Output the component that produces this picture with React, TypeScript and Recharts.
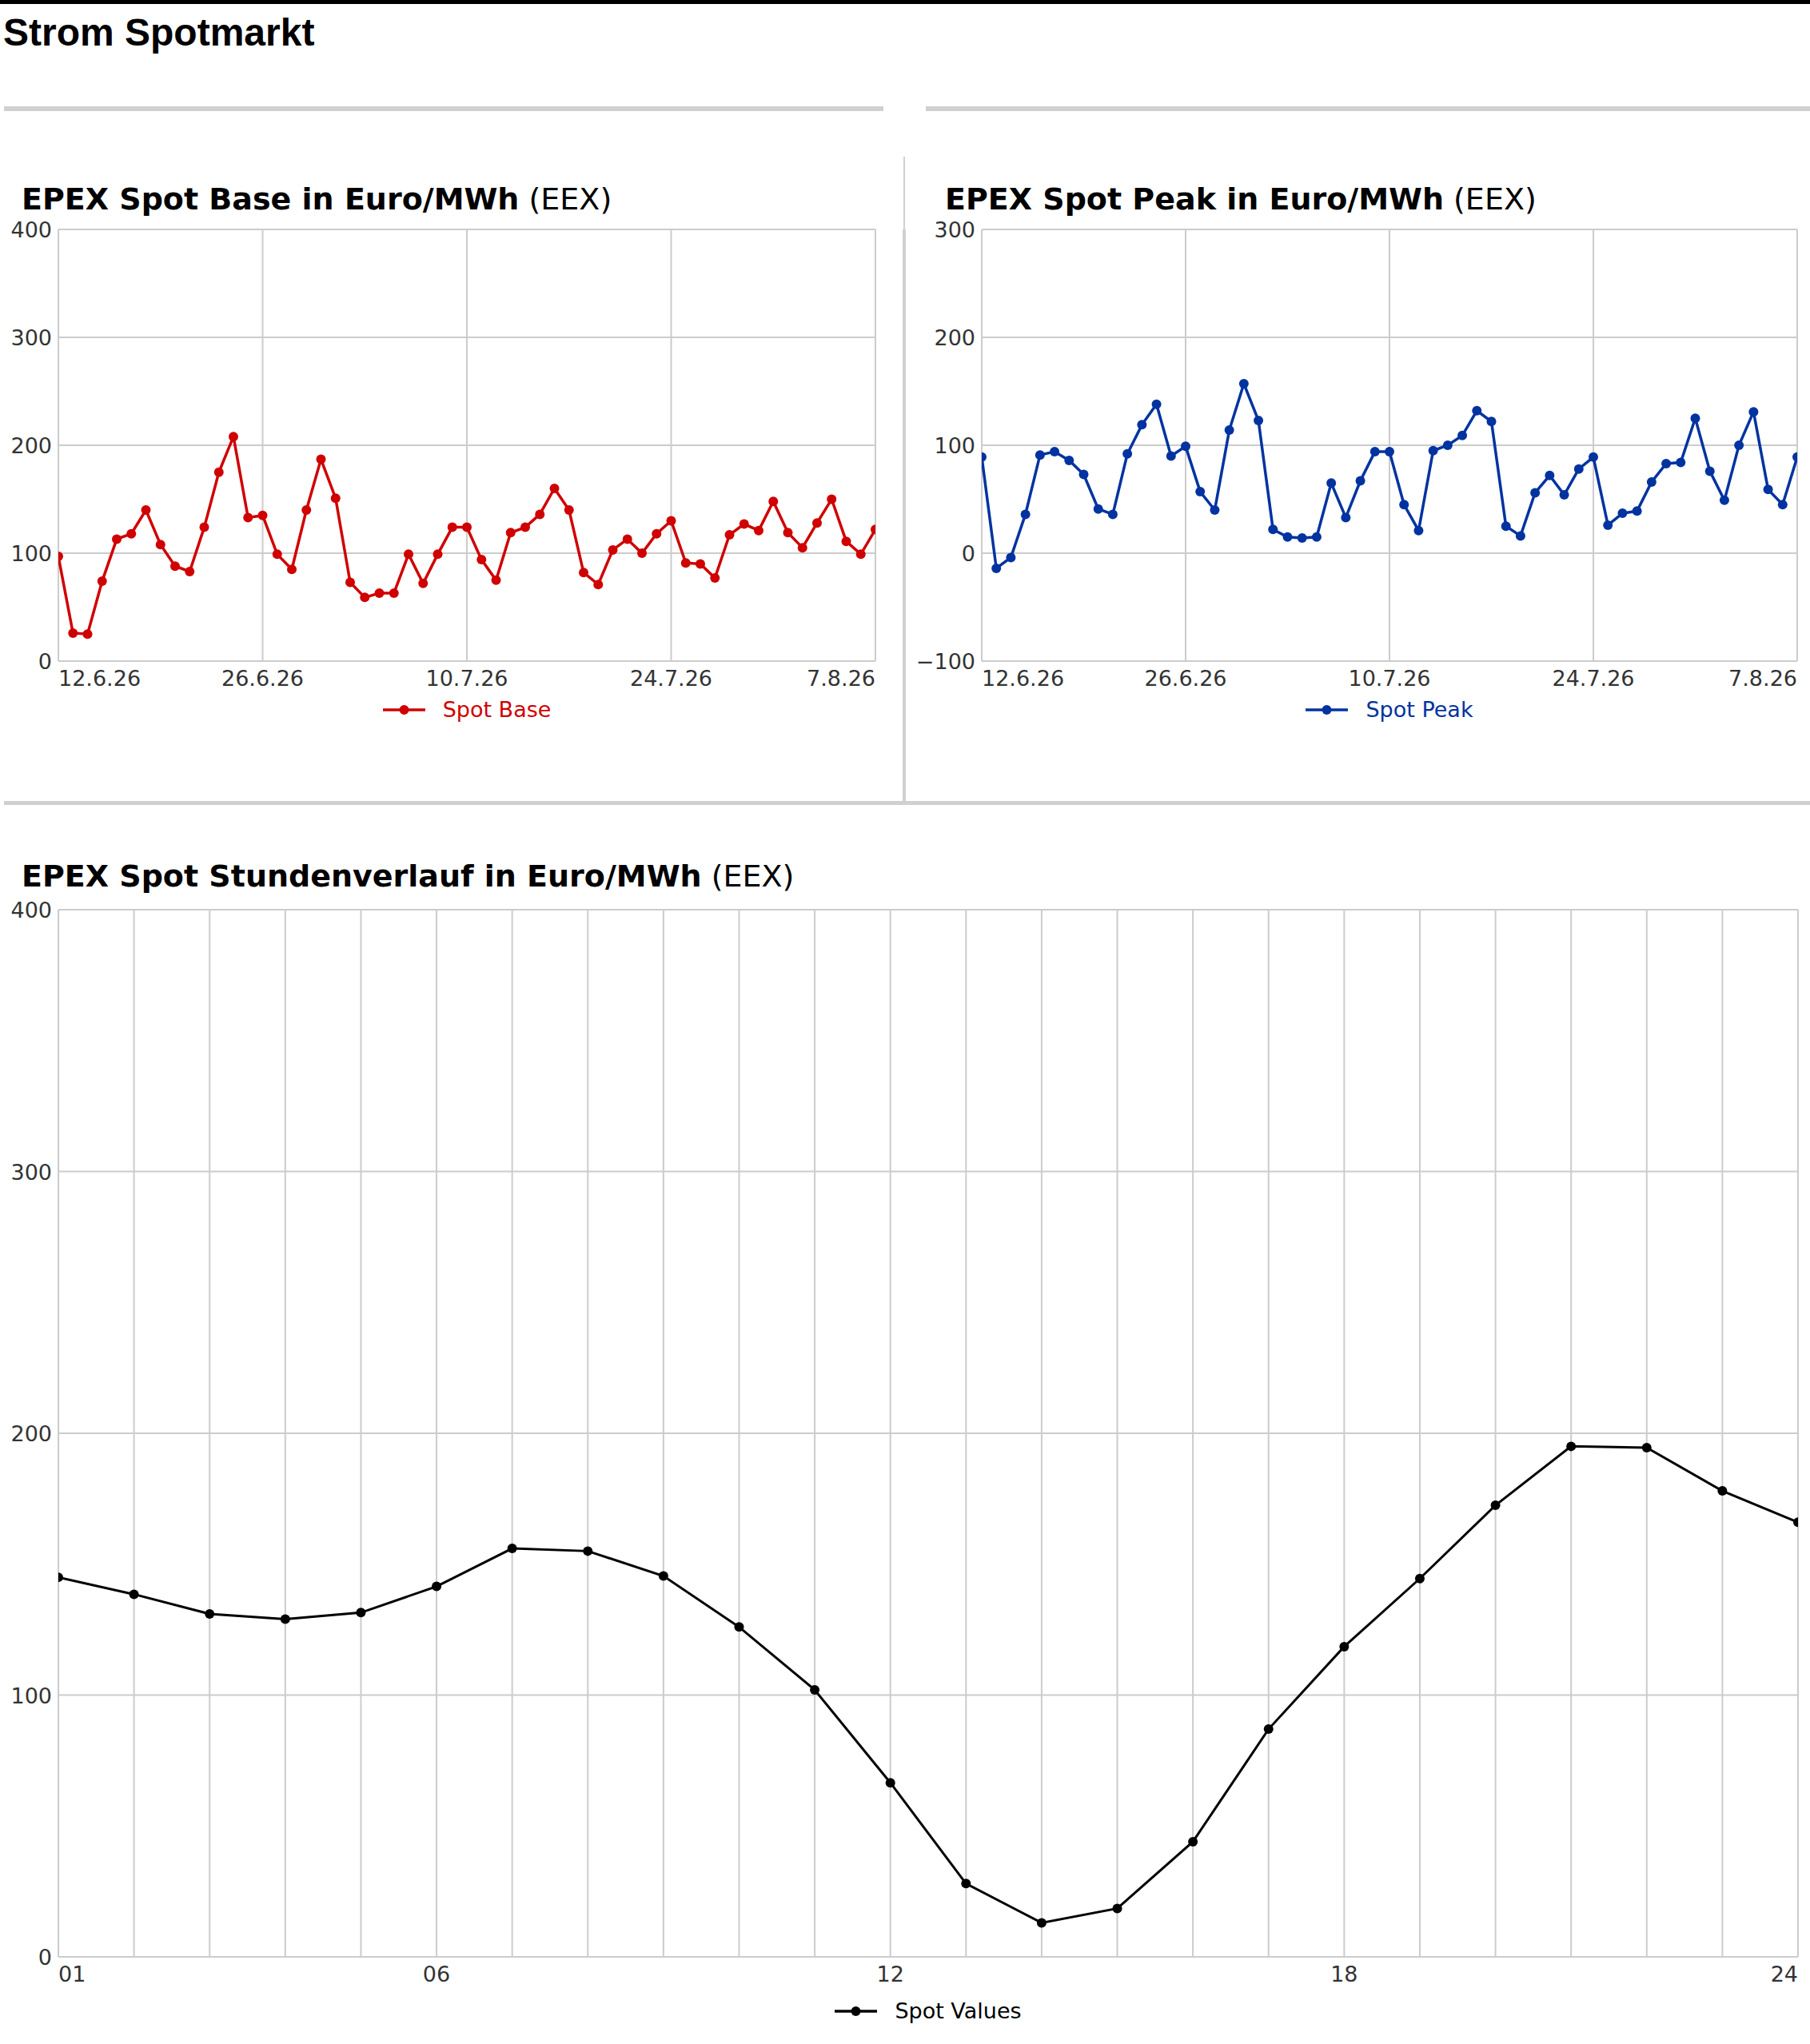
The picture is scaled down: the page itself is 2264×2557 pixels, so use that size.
import { LineChart, Line, XAxis, YAxis, CartesianGrid, Legend } from 'recharts';

const RED = '#d00000';
const BLUE = '#0033a0';
const BLACK = '#000000';
const GRID = '#cccccc';
const TICK = '#333333';
const SEP = '#d0d0d0';

// Tage 12.6.26 bis 7.8.26
const days = [
  '12.6.26', '13.6.26', '14.6.26', '15.6.26', '16.6.26', '17.6.26', '18.6.26', '19.6.26', '20.6.26', '21.6.26',
  '22.6.26', '23.6.26', '24.6.26', '25.6.26', '26.6.26', '27.6.26', '28.6.26', '29.6.26', '30.6.26', '1.7.26',
  '2.7.26', '3.7.26', '4.7.26', '5.7.26', '6.7.26', '7.7.26', '8.7.26', '9.7.26', '10.7.26', '11.7.26',
  '12.7.26', '13.7.26', '14.7.26', '15.7.26', '16.7.26', '17.7.26', '18.7.26', '19.7.26', '20.7.26', '21.7.26',
  '22.7.26', '23.7.26', '24.7.26', '25.7.26', '26.7.26', '27.7.26', '28.7.26', '29.7.26', '30.7.26', '31.7.26',
  '1.8.26', '2.8.26', '3.8.26', '4.8.26', '5.8.26', '6.8.26', '7.8.26',
];
const dayTicks = ['12.6.26', '26.6.26', '10.7.26', '24.7.26', '7.8.26'];

const spotBase = [
  97, 26, 25, 74, 113, 118, 140, 108, 88, 83,
  124, 175, 208, 133, 135, 99, 85, 140, 187, 151,
  73, 59, 63, 63, 99, 72, 99, 124, 124, 94,
  75, 119, 124, 136, 160, 140, 82, 71, 103, 113,
  100, 118, 130, 91, 90, 77, 117, 127, 121, 148,
  119, 105, 128, 150, 111, 99, 122,
];
const spotPeak = [
  89, -14, -4, 36, 91, 94, 86, 73, 41, 36,
  92, 119, 138, 90, 99, 57, 40, 114, 157, 123,
  22, 15, 14, 15, 65, 33, 67, 94, 94, 45,
  21, 95, 100, 109, 132, 122, 25, 16, 56, 72,
  54, 78, 89, 26, 37, 39, 66, 83, 84, 125,
  76, 49, 100, 131, 59, 45, 89,
];

const hours = [
  '01', '02', '03', '04', '05', '06', '07', '08', '09', '10', '11', '12',
  '13', '14', '15', '16', '17', '18', '19', '20', '21', '22', '23', '24',
];
const hourTicks = ['01', '06', '12', '18', '24'];
const spotHourly = [
  145, 138.5, 131, 129, 131.5, 141.5, 156, 155, 145.5, 126, 102, 66.5,
  28, 13, 18.5, 44, 87, 118.5, 144.5, 172.5, 195, 194.5, 178, 166,
];

const baseTicks = [0, 100, 200, 300, 400];
const peakTicks = [-100, 0, 100, 200, 300];

const dailyData = days.map((d, i) => ({ date: d, base: spotBase[i], peak: spotPeak[i] }));
const hourlyData = hours.map((h, i) => ({ hour: h, value: spotHourly[i] }));

const fmt = (v: number) => (v < 0 ? '\u2212' + Math.abs(v) : String(v));

function makeXTick(labels: string[]) {
  return (props: any) => {
    const { x, y, payload } = props;
    const v = payload.value;
    if (!labels.includes(v)) return <g />;
    const anchor = v === labels[0] ? 'start' : v === labels[labels.length - 1] ? 'end' : 'middle';
    return (
      <text x={x} y={y} dy={23} textAnchor={anchor} fill={TICK} fontSize={27} fontFamily="DejaVu Sans">
        {v}
      </text>
    );
  };
}

const YTick = (props: any) => {
  const { x, y, payload } = props;
  return (
    <text x={x} y={y} dy={10} textAnchor="end" fill={TICK} fontSize={27} fontFamily="DejaVu Sans">
      {fmt(payload.value)}
    </text>
  );
};

const renderLegend = (props: any) => {
  const item = props.payload && props.payload[0];
  if (!item) return null;
  const color = item.color;
  return (
    <div style={{ display: 'flex', alignItems: 'center', justifyContent: 'center', height: 40 }}>
      <svg width={53} height={16}>
        <line x1={0} y1={8} x2={53} y2={8} stroke={color} strokeWidth={3.5} />
        <circle cx={26.5} cy={8} r={6} fill={color} />
      </svg>
      <span style={{ marginLeft: 22, color, fontSize: 27, fontFamily: 'DejaVu Sans', lineHeight: '40px' }}>
        {item.value}
      </span>
    </div>
  );
};

function DailyChart({ dataKey, name, color, ticks, domain, yWidth, right }: any) {
  const width = yWidth === 73 ? 1128 : 1131;
  const plotW = width - yWidth - right;
  return (
    <LineChart width={width} height={740} data={dailyData} margin={{ top: 87, right, bottom: 63, left: 0 }}>
      <CartesianGrid stroke={GRID} strokeWidth={2} />
      <XAxis
        dataKey="date"
        ticks={dayTicks}
        interval={0}
        height={50}
        axisLine={false}
        tickLine={false}
        tickSize={6}
        tickMargin={2}
        allowDataOverflow
        tick={makeXTick(dayTicks)}
      />
      <YAxis
        type="number"
        domain={domain}
        ticks={ticks}
        width={yWidth}
        axisLine={false}
        tickLine={false}
        tickSize={8}
        tickMargin={0}
        tick={YTick}
      />
      <Legend
        verticalAlign="middle"
        content={renderLegend}
        wrapperStyle={{ top: 668, left: yWidth, width: plotW }}
      />
      <Line
        type="linear"
        dataKey={dataKey}
        name={name}
        stroke={color}
        strokeWidth={3.5}
        dot={{ r: 6, fill: color, stroke: color, strokeWidth: 0 }}
        activeDot={false}
        isAnimationActive={false}
      />
    </LineChart>
  );
}

export default function App() {
  return (
    <div style={{ position: 'relative', width: 2264, height: 2557, background: '#fff', overflow: 'hidden' }}>
      <style>{'body{margin:0}'}</style>
      <svg width={2264} height={2557} style={{ position: 'absolute', left: 0, top: 0 }}>
        <rect x={0} y={0} width={2264} height={5} fill="#000" />
        <text x={4} y={57} fontFamily="Liberation Sans" fontWeight="bold" fontSize={48} fill="#000">
          Strom Spotmarkt
        </text>
        <rect x={5} y={133} width={1100} height={6} fill={SEP} />
        <rect x={1158} y={133} width={1106} height={6} fill={SEP} />
        <rect x={1130} y={196} width={2} height={806} fill={SEP} />
        <rect x={1129} y={287} width={4} height={715} fill={SEP} />
        <rect x={5} y={1002} width={2259} height={5} fill={SEP} />
        <text x={27} y={262} fontFamily="DejaVu Sans" fontSize={38} fill="#000">
          <tspan fontWeight="bold">EPEX Spot Base in Euro/MWh</tspan> (EEX)
        </text>
        <text x={1182} y={262} fontFamily="DejaVu Sans" fontSize={38} fill="#000">
          <tspan fontWeight="bold">EPEX Spot Peak in Euro/MWh</tspan> (EEX)
        </text>
        <text x={27} y={1109} fontFamily="DejaVu Sans" fontSize={38} fill="#000">
          <tspan fontWeight="bold">EPEX Spot Stundenverlauf in Euro/MWh</tspan> (EEX)
        </text>
      </svg>

      <div style={{ position: 'absolute', left: 0, top: 200 }}>
        <DailyChart dataKey="base" name="Spot Base" color={RED} ticks={baseTicks} domain={[0, 400]} yWidth={73} right={33} />
      </div>
      <div style={{ position: 'absolute', left: 1133, top: 200 }}>
        <DailyChart dataKey="peak" name="Spot Peak" color={BLUE} ticks={peakTicks} domain={[-100, 300]} yWidth={95} right={16} />
      </div>

      <div style={{ position: 'absolute', left: 0, top: 1010 }}>
        <LineChart width={2264} height={1547} data={hourlyData} margin={{ top: 128, right: 15, bottom: 59, left: 0 }}>
          <CartesianGrid stroke={GRID} strokeWidth={2} />
          <XAxis
            dataKey="hour"
            interval={0}
            height={50}
            axisLine={false}
            tickLine={false}
            tickSize={6}
            tickMargin={2}
            allowDataOverflow
            tick={makeXTick(hourTicks)}
          />
          <YAxis
            type="number"
            domain={[0, 400]}
            ticks={baseTicks}
            width={73}
            axisLine={false}
            tickLine={false}
            tickSize={8}
            tickMargin={0}
            tick={YTick}
          />
          <Legend
            verticalAlign="middle"
            content={renderLegend}
            wrapperStyle={{ top: 1486, left: 73, width: 2176 }}
          />
          <Line
            type="linear"
            dataKey="value"
            name="Spot Values"
            stroke={BLACK}
            strokeWidth={3}
            dot={{ r: 6, fill: BLACK, stroke: BLACK, strokeWidth: 0 }}
            activeDot={false}
            isAnimationActive={false}
          />
        </LineChart>
      </div>
    </div>
  );
}
